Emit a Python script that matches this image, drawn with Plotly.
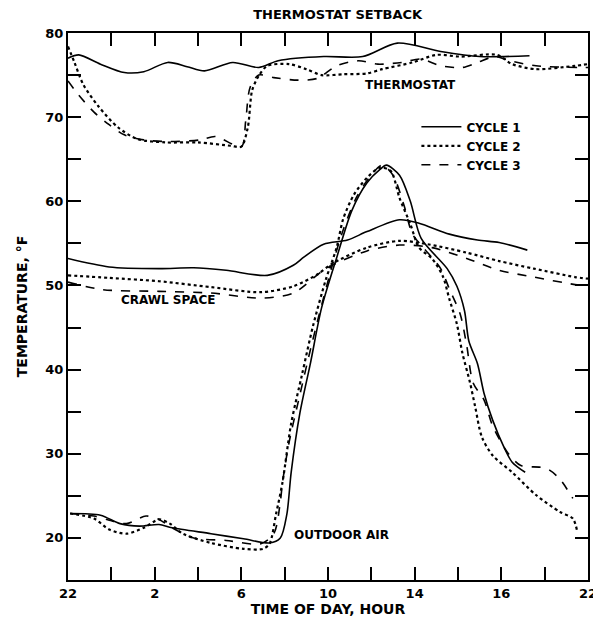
import plotly.graph_objects as go

# hours after 22:00 (0 = 22:00, 24 = 22:00 next day), temperatures in deg F
therm1_h = [0, 0.5, 1.5, 2.6, 3.5, 4.6, 5.5, 6.3, 7.6, 8.8, 9.7, 11.8, 13.6, 15.2, 17.2, 19.0, 21.3]
therm1_t = [77.0, 77.4, 76.3, 75.3, 75.4, 76.5, 76.0, 75.5, 76.5, 75.9, 76.7, 77.2, 77.2, 78.8, 77.8, 77.2, 77.3]
therm2_h = [0, 0.3, 0.7, 1.4, 2.3, 3.2, 4.5, 6.0, 7.5, 8.0, 8.3, 8.5, 8.8, 9.2, 10.2, 11.0, 11.7,
            12.7, 13.8, 14.5, 15.9, 17.0, 18.1, 19.8, 20.5, 21.6, 23.4, 24.0]
therm2_t = [78.4, 76.5, 73.9, 71.3, 68.8, 67.4, 67.0, 67.0, 66.6, 66.5, 68.8, 73.2, 74.9, 76.1, 76.3, 75.7, 75.0,
            75.1, 75.2, 75.7, 76.5, 77.4, 77.2, 77.4, 76.3, 75.7, 76.1, 76.3]
therm3_h = [0, 0.5, 1.2, 1.9, 2.6, 3.5, 4.7, 6.1, 6.8, 8.0, 8.2, 8.4, 8.8, 9.5, 10.6, 11.5, 12.4,
            13.4, 14.3, 15.4, 16.3, 17.2, 18.2, 18.9, 19.7, 20.4, 21.6, 23.7, 24.0]
therm3_t = [74.3, 72.6, 70.6, 69.1, 67.9, 67.3, 67.1, 67.3, 67.7, 66.5, 69.5, 73.5, 75.0, 74.7, 74.4, 74.6, 76.1,
            76.7, 76.3, 76.5, 76.9, 76.1, 75.9, 76.5, 77.2, 76.7, 76.1, 75.9, 75.9]

crawl1_h = [0, 1.9, 4.2, 5.8, 7.3, 9.2, 10.4, 10.9, 11.8, 12.9, 13.8, 15.3, 16.2, 17.6, 18.9, 19.9, 21.2]
crawl1_t = [53.2, 52.2, 52.0, 52.1, 51.8, 51.2, 52.4, 53.4, 54.9, 55.4, 56.4, 57.8, 57.4, 56.1, 55.4, 55.1, 54.2]
crawl2_h = [0, 1.9, 4.2, 6.6, 8.9, 10.4, 11.5, 12.2, 13.8, 15.3, 16.6, 18.4, 19.9, 21.5, 23.4, 24.0]
crawl2_t = [51.2, 50.9, 50.5, 49.8, 49.2, 49.9, 51.3, 52.6, 54.5, 55.3, 54.9, 53.9, 52.9, 52.0, 51.0, 50.8]
crawl3_h = [0, 1.6, 4.2, 6.6, 8.9, 10.4, 11.9, 13.8, 15.3, 16.8, 18.4, 19.9, 21.5, 23.4, 24.0]
crawl3_t = [50.4, 49.5, 49.3, 49.1, 48.5, 49.1, 52.0, 54.1, 54.8, 54.5, 53.2, 51.8, 51.0, 50.1, 49.9]

out1_h = [0.1, 1.5, 2.4, 3.3, 4.2, 4.8, 6.6, 8.1, 9.3, 9.8, 10.1, 10.3, 10.7, 11.2, 11.7, 12.4, 13.1,
          13.8, 14.4, 14.7, 15.3, 15.8, 16.3, 17.5, 17.95, 18.3, 18.5, 18.9, 19.2, 19.6, 20.1, 20.5, 21.1]
out1_t = [22.9, 22.7, 21.7, 21.4, 21.6, 21.2, 20.5, 19.9, 19.4, 20.0, 22.8, 27.8, 34.8, 40.9, 47.3, 53.3, 58.9,
          62.2, 63.8, 64.3, 63.1, 60.0, 55.6, 52.0, 49.9, 47.0, 43.4, 40.7, 37.2, 34.0, 30.9, 29.0, 27.8]
out2_h = [0.1, 1.2, 1.9, 2.7, 3.5, 4.2, 4.7, 5.3, 6.6, 8.1, 9.0, 9.3, 9.6, 9.9, 10.3, 10.8, 11.3, 11.9,
          12.4, 12.7, 13.2, 13.8, 14.4, 14.9, 15.3, 15.8, 16.2, 16.8, 17.3, 17.6, 17.95, 18.2, 18.55, 18.8,
          19.1, 19.6, 20.5, 21.6, 22.7, 23.3, 23.5]
out2_t = [22.9, 22.3, 21.0, 20.5, 21.2, 22.2, 21.7, 20.5, 19.4, 18.7, 18.7, 19.3, 22.8, 26.6, 33.6, 39.4, 45.1, 50.7,
          54.5, 57.9, 60.8, 62.8, 64.0, 63.6, 60.4, 57.3, 54.5, 53.2, 51.1, 48.4, 45.4, 42.0, 38.5, 35.5,
          32.0, 29.8, 27.8, 25.1, 23.1, 22.3, 20.8]
out3_h = [0.1, 1.2, 1.9, 2.7, 3.6, 4.2, 4.8, 5.8, 7.3, 8.9, 9.5, 9.8, 9.9, 10.2, 10.7, 11.2, 11.6, 12.2,
          12.7, 13.3, 13.9, 14.5, 15.0, 15.5, 15.9, 16.4, 17.2, 17.6, 18.1, 18.4, 18.7, 19.2, 19.6, 20.3,
          20.9, 21.8, 22.2, 22.7, 23.3]
out3_t = [22.9, 22.6, 22.1, 21.7, 22.6, 22.2, 21.2, 20.0, 19.7, 19.3, 20.5, 24.3, 26.6, 31.3, 37.0, 42.5, 46.6, 52.4,
          56.6, 60.4, 62.8, 64.3, 63.1, 59.6, 56.1, 54.5, 52.0, 49.6, 46.6, 42.9, 38.4, 36.4, 33.3, 30.1,
          28.6, 28.4, 28.1, 27.0, 24.7]

x_tickvals = list(range(0, 25, 2))
x_ticktext = ["22", "", "2", "", "6", "", "10", "", "14", "", "16", "", "22"]
y_tickvals = list(range(15, 81, 5))
y_ticktext = ["" if v % 10 else str(v) for v in y_tickvals]

FONT = "DejaVu Sans"
BOLD = "bold"
cycles = [
    ("CYCLE 1", "solid", 1.6, [(therm1_h, therm1_t), (crawl1_h, crawl1_t), (out1_h, out1_t)]),
    ("CYCLE 2", "dot", 2.2, [(therm2_h, therm2_t), (crawl2_h, crawl2_t), (out2_h, out2_t)]),
    ("CYCLE 3", "dash", 1.6, [(therm3_h, therm3_t), (crawl3_h, crawl3_t), (out3_h, out3_t)]),
]

fig = go.Figure()
for name, dash, width, series in cycles:
    for i, (h, t) in enumerate(series):
        fig.add_trace(go.Scatter(
            x=h, y=t, mode="lines", name=name, legendgroup=name, showlegend=(i == 0),
            line=dict(color="black", dash=dash, width=width, shape="spline", smoothing=0.8),
        ))

for text, x, y in [("THERMOSTAT", 15.8, 73.8), ("CRAWL SPACE", 4.6, 48.3), ("OUTDOOR AIR", 12.6, 20.4)]:
    fig.add_annotation(x=x, y=y, text=text, showarrow=False,
                       font=dict(family=FONT, size=12, color="black", weight=BOLD))

axis_common = dict(
    showline=True, linecolor="black", linewidth=2, mirror="allticks",
    ticks="inside", ticklen=13, tickwidth=2, tickcolor="black",
    showgrid=False, zeroline=False, automargin=False,
    tickfont=dict(family=FONT, size=13, color="black", weight=BOLD),
)
fig.update_xaxes(range=[0, 24], tickmode="array", tickvals=x_tickvals, ticktext=x_ticktext,
                 title=dict(text="TIME OF DAY, HOUR", standoff=4,
                            font=dict(family=FONT, size=14, color="black", weight=BOLD)),
                 **axis_common)
fig.update_yaxes(range=[15, 80], tickmode="array", tickvals=y_tickvals, ticktext=y_ticktext,
                 title=dict(text="TEMPERATURE, °F", standoff=14,
                            font=dict(family=FONT, size=14, color="black", weight=BOLD)),
                 **axis_common)

# the page body adds an 8px offset, so the figure is sized to fit the window
fig.update_layout(
    width=593, height=618,
    margin=dict(l=60, r=13, t=25, b=46),
    paper_bgcolor="white", plot_bgcolor="white",
    title=dict(text="THERMOSTAT SETBACK", x=0.556, xanchor="center", y=0.989, yanchor="middle",
               font=dict(family=FONT, size=13, color="black", weight=BOLD)),
    legend=dict(x=0.67, y=0.855, xanchor="left", yanchor="top", bgcolor="rgba(0,0,0,0)",
                font=dict(family=FONT, size=12, color="black", weight=BOLD),
                itemwidth=40, tracegroupgap=0),
    showlegend=True,
)

fig.write_html("out.html")
